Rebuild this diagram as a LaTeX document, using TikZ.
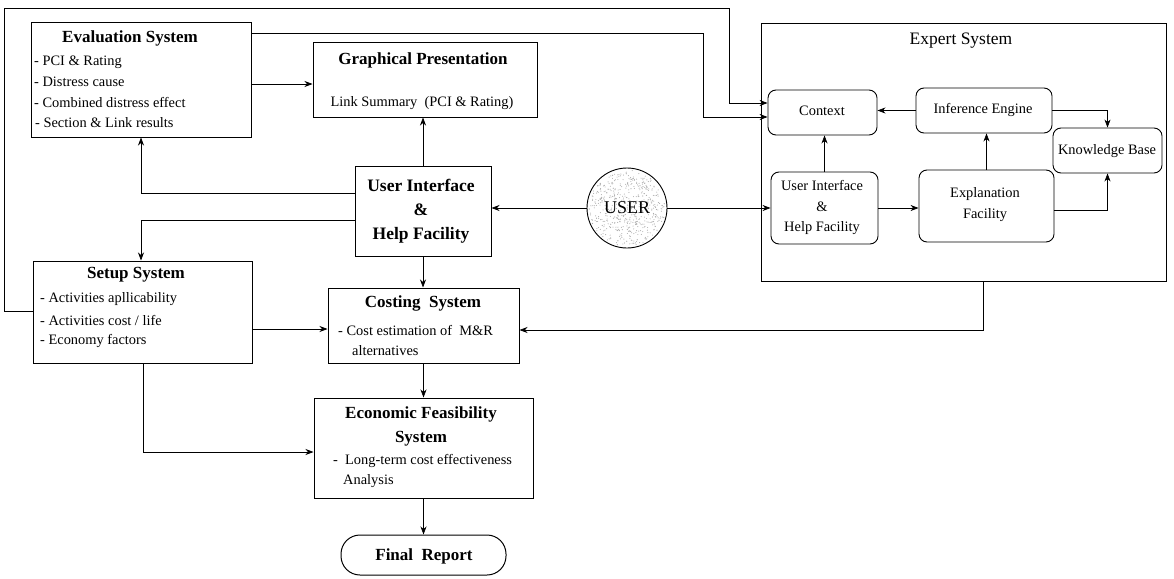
\documentclass[tikz,border=0pt]{standalone}
\usepackage{fontspec}
\setmainfont{Liberation Serif}
\usetikzlibrary{arrows.meta,calc}
\begin{document}
\begin{tikzpicture}[x=1pt,y=-1pt,
  box/.style={draw, line width=1pt, inner sep=0pt},
  rbox/.style={draw, line width=0.9pt, rounded corners=8pt, inner sep=0pt},
  arr/.style={line width=0.7pt, -{Stealth[length=8pt,width=6pt,inset=2.5pt]}},
  ttl/.style={font=\bfseries\fontsize{17}{20}\selectfont, inner sep=0pt},
  big/.style={font=\bfseries\fontsize{17.5}{20}\selectfont, inner sep=0pt},
  txt/.style={font=\fontsize{14.4}{17}\selectfont, inner sep=0pt, anchor=west},
  itxt/.style={font=\fontsize{14.4}{16}\selectfont, inner sep=0pt}
]
\useasboundingbox (0,0) rectangle (1174,578);

% boxes
\node[box, minimum width=220pt, minimum height=114pt] (eval) at (141,80) {};
\node[box, minimum width=224pt, minimum height=74pt] (graph) at (425,80) {};
\node[box, minimum width=136pt, minimum height=90pt] (ui) at (423,211) {};
\node[box, minimum width=219pt, minimum height=102pt] (setup) at (142.5,312) {};
\node[box, minimum width=191pt, minimum height=75pt] (cost) at (423.5,325.5) {};
\node[box, minimum width=219pt, minimum height=100pt] (econ) at (423.5,448) {};
\node[draw, line width=1pt, rounded corners=19pt, minimum width=165pt, minimum height=40pt, inner sep=0pt] (final) at (423.5,555) {};
\node[box, minimum width=405pt, minimum height=257pt] (expert) at (963.5,152.5) {};
\node[rbox, minimum width=109pt, minimum height=45pt] (context) at (822.5,112.5) {};
\node[rbox, minimum width=136pt, minimum height=45pt] (inf) at (984,110.5) {};
\node[rbox, minimum width=109pt, minimum height=45pt] (kb) at (1107.5,150.5) {};
\node[rbox, minimum width=135pt, minimum height=72pt] (expl) at (986.5,206) {};
\node[rbox, minimum width=107pt, minimum height=72pt] (uiin) at (824.5,208) {};
\node[draw, line width=0.9pt, circle, minimum size=80pt, inner sep=0pt] (user) at (627,208) {};

% stipple in USER circle
\pgfmathsetseed{7}
\foreach \i in {1,...,520} {
  \pgfmathsetmacro\rr{38*sqrt(rnd)}
  \pgfmathsetmacro\aa{360*rnd}
  \fill[gray!65] (user.center) ++(\aa:\rr pt) circle (0.55pt);
}

% texts
\node[ttl] (evalT) at (130,38) {Evaluation System};
\node[txt] (e1) at (34,62) {- PCI \& Rating};
\node[txt] (e2) at (34,82) {- Distress cause};
\node[txt] (e3) at (34,102) {- Combined distress effect};
\node[txt] (e4) at (35,123) {- Section \& Link results};

\node[ttl] (graphT) at (423,60) {Graphical Presentation};
\node[txt, anchor=center] (g1) at (422,103) {Link Summary\ \ (PCI \& Rating)};

\node[big] (u1) at (421,185) {User Interface};
\node[big] (u2) at (421,210) {\&};
\node[big] (u3) at (421,235) {Help Facility};

\node[ttl] (setupT) at (136,275) {Setup System};
\node[txt] (s1) at (40,299) {- Activities apllicability};
\node[txt] (s2) at (40,320) {- Activities cost / life};
\node[txt] (s3) at (40,341) {- Economy factors};

\node[ttl] (costT) at (423,303) {Costing\ \ System};
\node[txt] (c1) at (338,330) {- Cost estimation of\ \ M\&R};
\node[txt] (c2) at (352,351) {alternatives};

\node[ttl] (econT1) at (421,414) {Economic Feasibility};
\node[ttl] (econT2) at (421,439) {System};
\node[txt] (ec1) at (333,461) {-\ \ Long-term cost effectiveness};
\node[txt] (ec2) at (343,481) {Analysis};

\node[ttl] (finalT) at (424,556) {Final\ \ Report};

\node[font=\fontsize{17.5}{20}\selectfont, inner sep=0pt] (expT) at (961,41) {Expert System};
\node[itxt] (ctxT) at (822,111) {Context};
\node[itxt] (infT) at (983,110) {Inference Engine};
\node[itxt] (kbT) at (1107,151) {Knowledge Base};
\node[itxt] (ex1) at (985,194) {Explanation};
\node[itxt] (ex2) at (985,215) {Facility};
\node[itxt] (ui1) at (822,185) {User Interface};
\node[itxt] (ui2) at (822,207) {\&};
\node[itxt] (ui3) at (822,228) {Help Facility};
\node[font=\fontsize{18}{20}\selectfont, inner sep=1pt] (userT) at (627,208) {USER};

% corner coordinates
\coordinate (c1a) at (4,311);
\coordinate (c1b) at (4,8);
\coordinate (c1c) at (729,8);
\coordinate (c1d) at (729,103);
\coordinate (c2a) at (703,33);
\coordinate (c2b) at (703,117);

% connectors
\draw[arr] (eval.east |- 0,84) -- (graph.west |- 0,84);
\draw[arr] (ui.north) -- (ui.north |- graph.south);
\draw[arr] (ui.west |- 0,193) -| (eval.south);
\draw[arr] (ui.west |- 0,220) -| (setup.north -| 141,0);
\draw[arr] (user.west) -- (ui.east |- user.west);
\draw[arr] (user.east) -- (uiin.west |- user.east);
\draw[arr] (uiin.north) -- (uiin.north |- context.south);
\draw[arr] (uiin.east) -- (expl.west |- uiin.east);
\draw[arr] (expl.north) -- (expl.north |- inf.south);
\draw[arr] (inf.west) -- (context.east |- inf.west);
\draw[arr] (inf.east) -| (kb.north);
\draw[arr] (expl.east |- 0,210) -| (kb.south);
\draw[arr] (ui.south) -- (ui.south |- cost.north);
\draw[arr] (setup.east |- 0,329) -- (cost.west |- 0,329);
\draw[arr] (expert.south -| 983,0) |- (cost.east |- 0,330);
\draw[arr] (cost.south) -- (econ.north);
\draw[arr] (setup.south -| 143,0) |- (econ.west |- 0,452);
\draw[arr] (econ.south) -- (final.north);
\draw[arr] (eval.east |- c2a) -- (c2a) -- (c2b) -- (context.west |- c2b);
\draw[arr] (setup.west |- c1a) -- (c1a) -- (c1b) -- (c1c) -- (c1d) -- (context.west |- c1d);
\end{tikzpicture}
\end{document}
